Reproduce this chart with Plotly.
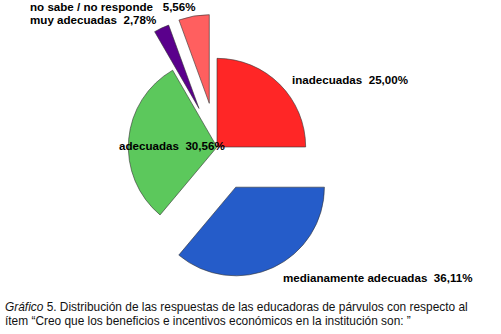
import plotly.graph_objects as go

categories = ["inadecuadas", "medianamente adecuadas", "adecuadas", "muy adecuadas", "no sabe / no responde"]
values = [25.00, 36.11, 30.56, 2.78, 5.56]
value_labels = ["25,00%", "36,11%", "30,56%", "2,78%", "5,56%"]
colors = ["#FF2626", "#255CC9", "#5CC85C", "#5A008C", "#FF5F5F"]
pulls = [0, 0.5, 0, 0.48, 0.5]

W, H = 501, 334
cx, cy, half = 217, 147, 133

fig = go.Figure(go.Pie(
    labels=categories,
    values=values,
    sort=False,
    direction="clockwise",
    rotation=0,
    pull=pulls,
    marker=dict(colors=colors, line=dict(color="#333333", width=0.6)),
    textinfo="none",
    hoverinfo="label+percent",
    showlegend=False,
    domain=dict(x=[(cx - half) / W, (cx + half) / W],
                y=[1 - (cy + half) / H, 1 - (cy - half) / H]),
))

label_pos = {
    "inadecuadas": (290, 79),
    "medianamente adecuadas": (281, 277),
    "adecuadas": (117, 145),
    "muy adecuadas": (28, 19.5),
    "no sabe / no responde": (28, 6.5),
}
for cat, vl in zip(categories, value_labels):
    px, py = label_pos[cat]
    sep = "\u00a0\u00a0\u00a0" if cat == "no sabe / no responde" else "\u00a0\u00a0"
    fig.add_annotation(
        x=px / W, y=1 - py / H, xref="paper", yref="paper",
        xanchor="left", yanchor="middle", showarrow=False,
        text=f"<b>{cat}{sep}{vl}</b>",
        font=dict(family="Liberation Sans, Arial", size=11.6, color="#000000"),
    )

caption_lines = [
    "<i>Gráfico</i> 5. Distribución de las respuestas de las educadoras de párvulos con respecto al",
    "ítem “Creo que los beneficios e incentivos económicos en la institución son: ”",
]
for i, line in enumerate(caption_lines):
    fig.add_annotation(
        x=3 / W, y=1 - (307 + 14 * i) / H, xref="paper", yref="paper",
        xanchor="left", yanchor="middle", showarrow=False,
        text=line,
        font=dict(family="Liberation Sans, Arial", size=11.9, color="#111111"),
    )

fig.update_layout(
    width=W, height=H,
    margin=dict(l=0, r=0, t=0, b=0),
    paper_bgcolor="white",
    plot_bgcolor="white",
)

fig.write_html("out.html", config={"displayModeBar": False},
               post_script="document.body.style.margin='0';")
